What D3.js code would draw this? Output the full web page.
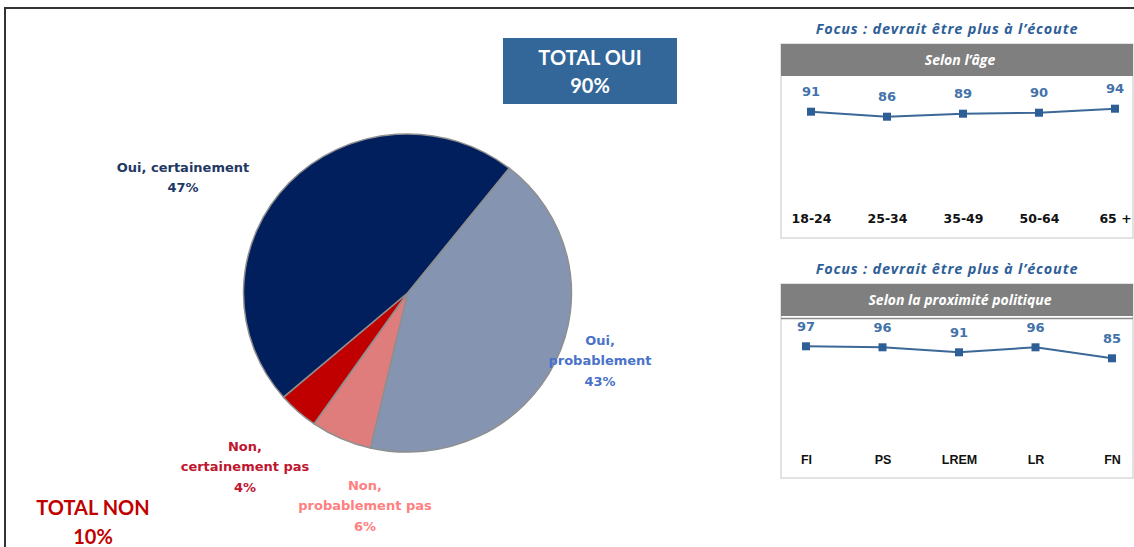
<!DOCTYPE html>
<html>
<head>
<meta charset="utf-8">
<script src="https://cdn.jsdelivr.net/npm/d3@7"></script>
<style>
  body { margin: 0; background: #fff; }
  svg { display: block; }
</style>
</head>
<body>
<div id="chart"></div>
<script>
// donnees
const pieLabels = ["Oui, probablement", "Non, probablement pas", "Non, certainement pas", "Oui, certainement"]
const pieValues = [43, 6, 4, 47]
const pieColors = ["#8594b0", "#df7d7d", "#c00000", "#001f5c"]

const ageCats = ["18-24", "25-34", "35-49", "50-64", "65 +"]
const ageValues = [91, 86, 89, 90, 94]

const partyCats = ["FI", "PS", "LREM", "LR", "FN"]
const partyValues = [97, 96, 91, 96, 85]

const width = 1134
const height = 547

const svg = d3.select("#chart").append("svg").attr("width", width).attr("height", height)

// cadre
svg.append("rect").attr("x", 5).attr("y", 8).attr("width", 1140).attr("height", 560)
  .attr("fill", "none").attr("stroke", "#333").attr("stroke-width", 2)

// camembert
const pie = d3.pie().sort(null).startAngle(38.3 * Math.PI / 180).endAngle(38.3 * Math.PI / 180 + 2 * Math.PI)
const arc = d3.arc().innerRadius(0).outerRadius(164)
const pieGroup = svg.append("g").attr("transform", "translate(407.5,293) scale(1,0.97)")
pieGroup.selectAll("path").data(pie(pieValues)).enter().append("path")
  .attr("d", arc)
  .attr("fill", (d, i) => pieColors[i])
  .attr("stroke", "#8f8f8f")
  .attr("stroke-width", 1.5)

// etiquettes du camembert
const labels = [
  { lines: ["Oui, certainement", "47%"], x: 183, y: 167, color: "#1f3864" },
  { lines: ["Oui,", "probablement", "43%"], x: 600, y: 340, color: "#4a72c8" },
  { lines: ["Non,", "certainement pas", "4%"], x: 245, y: 446, color: "#c0152f" },
  { lines: ["Non,", "probablement pas", "6%"], x: 365, y: 485, color: "#ff7f80" }
]
labels.forEach(l => {
  const t = svg.append("text").attr("text-anchor", "middle")
    .attr("font-family", "DejaVu Sans").attr("font-weight", "bold").attr("font-size", 13)
    .attr("fill", l.color)
  l.lines.forEach((s, i) => {
    t.append("tspan").attr("x", l.x).attr("y", l.y + i * 20.5).attr("dy", "0.35em").text(s)
  })
})

// totaux
svg.append("rect").attr("x", 503).attr("y", 38).attr("width", 174).attr("height", 66).attr("fill", "#336699")
svg.append("text").attr("x", 590).attr("y", 58).attr("dy", "0.35em").attr("text-anchor", "middle")
  .attr("font-family", "Lato").attr("font-weight", "bold").attr("font-size", 20).attr("fill", "#fff").text("TOTAL OUI")
svg.append("text").attr("x", 590).attr("y", 86).attr("dy", "0.35em").attr("text-anchor", "middle")
  .attr("font-family", "Lato").attr("font-weight", "bold").attr("font-size", 20).attr("fill", "#fff").text("90%")

svg.append("text").attr("x", 93).attr("y", 508).attr("dy", "0.35em").attr("text-anchor", "middle")
  .attr("font-family", "Lato").attr("font-weight", "bold").attr("font-size", 20).attr("fill", "#c00000").text("TOTAL NON")
svg.append("text").attr("x", 93).attr("y", 537).attr("dy", "0.35em").attr("text-anchor", "middle")
  .attr("font-family", "Lato").attr("font-weight", "bold").attr("font-size", 20).attr("fill", "#c00000").text("10%")

// panneaux de droite
function panel(cfg) {
  const g = svg.append("g")
  g.append("text").attr("x", 947).attr("y", cfg.titleY).attr("dy", "0.35em").attr("text-anchor", "middle")
    .attr("font-family", "Open Sans").attr("font-style", "italic").attr("font-weight", "bold").attr("font-size", 14.5)
    .attr("letter-spacing", 0.8)
    .attr("fill", "#2f5f98").text("Focus : devrait être plus à l’écoute")
  g.append("rect").attr("x", 781).attr("y", cfg.top).attr("width", 352).attr("height", cfg.bottom - cfg.top)
    .attr("fill", "#fff").attr("stroke", "#d9d9d9").attr("stroke-width", 1.5)
  g.append("rect").attr("x", 781).attr("y", cfg.top).attr("width", 352).attr("height", 32).attr("fill", "#7f7f7f")
  if (cfg.doubleLine) {
    g.append("line").attr("x1", 781).attr("x2", 1133).attr("y1", cfg.top + 34.5).attr("y2", cfg.top + 34.5)
      .attr("stroke", "#8a8a8a").attr("stroke-width", 1.5)
  }
  g.append("text").attr("x", 960).attr("y", cfg.top + 16.5).attr("dy", "0.35em").attr("text-anchor", "middle")
    .attr("font-family", "Open Sans").attr("font-style", "italic").attr("font-weight", "bold").attr("font-size", 14)
    .attr("fill", "#fff").text(cfg.header)

  const x = d3.scalePoint().domain(cfg.cats).range(cfg.xRange)
  const y = d3.scaleLinear().domain([0, 100]).range([cfg.y0, cfg.y0 - 100])
  const data = cfg.cats.map((c, i) => ({ cat: c, value: cfg.values[i] }))

  const line = d3.line().x(d => x(d.cat)).y(d => y(d.value))
  g.append("path").datum(data).attr("d", line).attr("fill", "none").attr("stroke", "#3c6898").attr("stroke-width", 2)
  g.selectAll(".pt").data(data).enter().append("rect").attr("class", "pt")
    .attr("x", d => x(d.cat) - 4).attr("y", d => y(d.value) - 4).attr("width", 8).attr("height", 8)
    .attr("fill", "#2e5e96")
  g.selectAll(".val").data(data).enter().append("text").attr("class", "val")
    .attr("x", d => x(d.cat)).attr("y", d => y(d.value) - 20).attr("dy", "0.35em").attr("text-anchor", "middle")
    .attr("font-family", "DejaVu Sans").attr("font-weight", "bold").attr("font-size", 13)
    .attr("fill", "#4372aa").text(d => d.value)

  const xAxis = d3.axisBottom(x).tickSize(0).tickPadding(0)
  const ax = g.append("g").attr("transform", `translate(0,${cfg.catY})`).call(xAxis)
  ax.select(".domain").remove()
  ax.selectAll("text").attr("dy", "0.35em").attr("y", 0)
    .attr("font-family", cfg.catFont).attr("font-weight", "bold").attr("font-size", 12.5).attr("fill", "#111")
}

panel({ titleY: 29, top: 44, bottom: 238, header: "Selon l’âge", cats: ageCats, values: ageValues,
  xRange: [811, 1115], y0: 202.7, catY: 219, catFont: "DejaVu Sans", doubleLine: false })
panel({ titleY: 269, top: 284, bottom: 478, header: "Selon la proximité politique", cats: partyCats, values: partyValues,
  xRange: [806, 1112], y0: 443.3, catY: 460, catFont: "Liberation Sans", doubleLine: true })
</script>
</body>
</html>
